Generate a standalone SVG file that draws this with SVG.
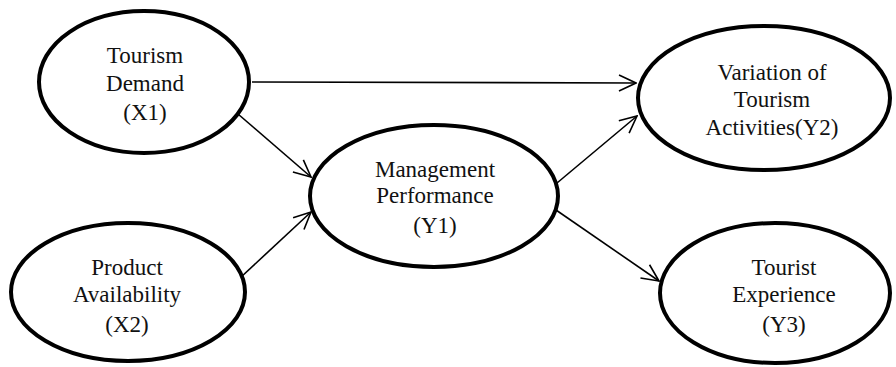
<svg xmlns="http://www.w3.org/2000/svg" width="896" height="367" viewBox="0 0 896 367">
<style>
.node ellipse{fill:#fff;stroke:#000;stroke-width:4}
.node text{font-family:'Liberation Serif','Times New Roman',Times,serif;font-size:23px;fill:#111;text-anchor:middle}
.conn line{stroke:#000;stroke-width:1.6;fill:none;marker-end:url(#arr)}
</style>
<defs>
<marker id="arr" viewBox="0 0 20 20" refX="19" refY="10" markerWidth="20" markerHeight="20" markerUnits="userSpaceOnUse" orient="auto">
<path d="M2,2 L19,10 L2,18" fill="none" stroke="#000" stroke-width="1.6"/>
</marker>
</defs>
<rect width="896" height="367" fill="#fff"/>
<g class="conn">
<line x1="252" y1="82" x2="636" y2="83"/>
<line x1="238" y1="114" x2="311" y2="177"/>
<line x1="240" y1="278" x2="311" y2="212"/>
<line x1="557" y1="183" x2="637" y2="116"/>
<line x1="556" y1="210" x2="659" y2="281"/>
</g>
<g id="X1" class="node">
<ellipse cx="144" cy="82" rx="105" ry="71"/>
<text x="145" y="63" font-family="Liberation Serif, serif">Tourism</text>
<text x="145" y="91" font-family="Liberation Serif, serif">Demand</text>
<text x="145" y="120" font-family="Liberation Serif, serif">(X1)</text>
</g>
<g id="X2" class="node">
<ellipse cx="128" cy="292" rx="117" ry="69"/>
<text x="127" y="275" font-family="Liberation Serif, serif">Product</text>
<text x="127" y="302" font-family="Liberation Serif, serif">Availability</text>
<text x="127" y="332" font-family="Liberation Serif, serif">(X2)</text>
</g>
<g id="Y1" class="node">
<ellipse cx="434" cy="196" rx="124" ry="71"/>
<text x="435" y="177" font-family="Liberation Serif, serif">Management</text>
<text x="435" y="203" font-family="Liberation Serif, serif">Performance</text>
<text x="435" y="233" font-family="Liberation Serif, serif">(Y1)</text>
</g>
<g id="Y2" class="node">
<ellipse cx="764" cy="98" rx="126" ry="72"/>
<text x="772" y="80" font-family="Liberation Serif, serif">Variation of</text>
<text x="772" y="107" font-family="Liberation Serif, serif">Tourism</text>
<text x="772" y="135" font-family="Liberation Serif, serif">Activities(Y2)</text>
</g>
<g id="Y3" class="node">
<ellipse cx="775" cy="293" rx="115" ry="70"/>
<text x="784" y="275" font-family="Liberation Serif, serif">Tourist</text>
<text x="784" y="302" font-family="Liberation Serif, serif">Experience</text>
<text x="784" y="332" font-family="Liberation Serif, serif">(Y3)</text>
</g>
</svg>
